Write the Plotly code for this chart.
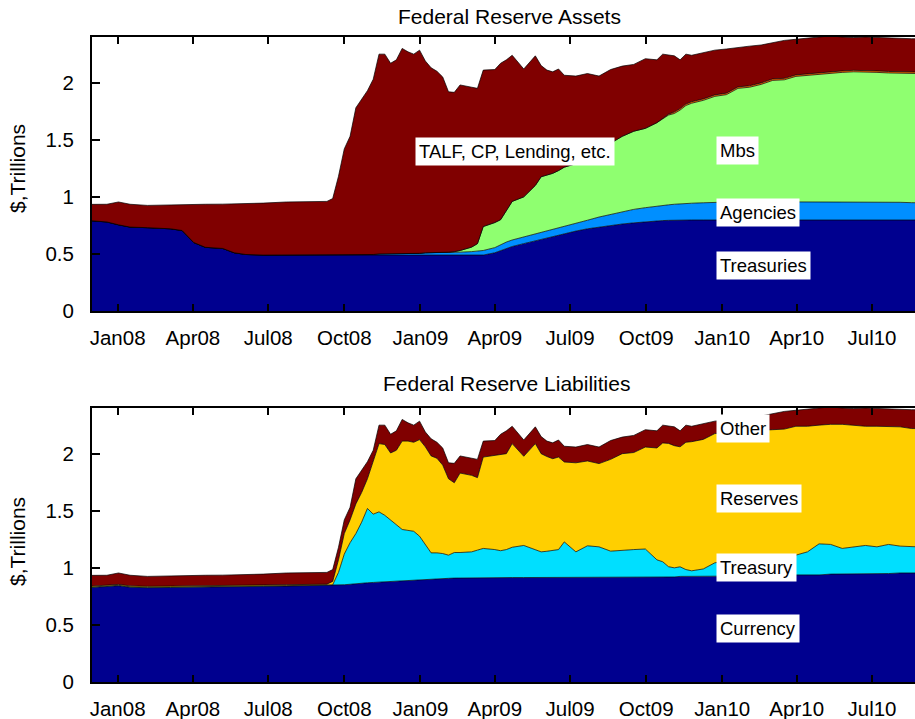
import plotly.graph_objects as go

dates = [
    "2007-12-01","2007-12-19","2008-01-02","2008-01-16","2008-02-06","2008-03-05","2008-03-19","2008-04-02","2008-04-16","2008-05-07",
    "2008-05-21","2008-06-04","2008-06-25","2008-07-23","2008-08-20","2008-09-10","2008-09-17","2008-09-24","2008-10-01","2008-10-08",
    "2008-10-15","2008-10-22","2008-10-29","2008-11-05","2008-11-12","2008-11-19","2008-11-26","2008-12-03","2008-12-10","2008-12-17",
    "2008-12-24","2008-12-31","2009-01-07","2009-01-14","2009-01-21","2009-01-28","2009-02-04","2009-02-11","2009-02-18","2009-03-04",
    "2009-03-11","2009-03-18","2009-04-01","2009-04-08","2009-04-15","2009-04-22","2009-05-06","2009-05-20","2009-05-27","2009-06-03",
    "2009-06-10","2009-06-17","2009-06-24","2009-07-08","2009-07-22","2009-08-05","2009-08-19","2009-09-02","2009-09-16","2009-09-30",
    "2009-10-14","2009-10-21","2009-10-28","2009-11-04","2009-11-11","2009-11-18","2009-11-25","2009-12-09","2009-12-23","2010-01-06",
    "2010-01-20","2010-02-03","2010-02-17","2010-03-03","2010-03-17","2010-03-31","2010-04-14","2010-04-28","2010-05-12","2010-05-26",
    "2010-06-09","2010-06-23","2010-07-07","2010-07-21","2010-08-04","2010-08-18","2010-08-25",
]

# ---- Assets ($ trillions) ----
treasuries = [
    0.79, 0.78, 0.755, 0.735, 0.73, 0.72, 0.705, 0.60, 0.558, 0.548,
    0.51, 0.495, 0.49, 0.49, 0.49, 0.49, 0.49, 0.49, 0.49, 0.49,
    0.49, 0.49, 0.49, 0.49, 0.49, 0.49, 0.49, 0.49, 0.49, 0.49,
    0.49, 0.49, 0.49, 0.49, 0.49, 0.49, 0.49, 0.49, 0.49, 0.49,
    0.49, 0.49, 0.51, 0.53, 0.549, 0.565, 0.59, 0.615, 0.625, 0.64,
    0.65, 0.665, 0.678, 0.70, 0.72, 0.735, 0.745, 0.762, 0.772, 0.782,
    0.79, 0.792, 0.794, 0.796, 0.797, 0.797, 0.797, 0.797, 0.797, 0.797,
    0.797, 0.797, 0.797, 0.797, 0.797, 0.797, 0.797, 0.797, 0.797, 0.797,
    0.797, 0.797, 0.797, 0.797, 0.797, 0.797, 0.797,
]
agencies = [
    0, 0, 0, 0, 0, 0, 0, 0, 0, 0,
    0, 0, 0, 0, 0, 0, 0, 0, 0.003, 0.005,
    0.005, 0.005, 0.005, 0.005, 0.01, 0.01, 0.01, 0.01, 0.01, 0.01,
    0.01, 0.015, 0.02, 0.02, 0.02, 0.02, 0.025, 0.025, 0.025, 0.03,
    0.035, 0.04, 0.045, 0.05, 0.055, 0.057, 0.058, 0.059, 0.06, 0.06,
    0.061, 0.062, 0.063, 0.065, 0.075, 0.088, 0.10, 0.11, 0.118, 0.123,
    0.13, 0.133, 0.136, 0.139, 0.142, 0.145, 0.147, 0.151, 0.155, 0.157,
    0.16, 0.16, 0.16, 0.16, 0.16, 0.16, 0.16, 0.16, 0.16, 0.16,
    0.16, 0.16, 0.16, 0.16, 0.155, 0.152, 0.151,
]
mbs = [
    0, 0, 0, 0, 0, 0, 0, 0, 0, 0,
    0, 0, 0, 0, 0, 0, 0, 0, 0, 0,
    0, 0, 0, 0, 0, 0, 0, 0, 0, 0,
    0, 0, 0, 0, 0, 0, 0, 0.005, 0.015, 0.04,
    0.065, 0.21, 0.22, 0.22, 0.276, 0.338, 0.352, 0.426, 0.491, 0.49,
    0.495, 0.503, 0.519, 0.525, 0.555, 0.587, 0.625, 0.658, 0.685, 0.695,
    0.73, 0.755, 0.786, 0.795, 0.821, 0.858, 0.876, 0.897, 0.928, 0.941,
    0.993, 1.003, 1.028, 1.063, 1.068, 1.098, 1.108, 1.118, 1.128, 1.133,
    1.138, 1.138, 1.133, 1.128, 1.133, 1.131, 1.132,
]
other_assets = [
    0, 0, 0, 0, 0, 0, 0, 0, 0, 0,
    0, 0, 0, 0, 0, 0, 0, 0, 0, 0,
    0, 0, 0, 0, 0, 0, 0, 0, 0, 0,
    0, 0, 0, 0, 0, 0, 0, 0, 0, 0,
    0, 0, 0, 0, 0, 0, 0, 0, 0, 0,
    0, 0, 0, 0, 0, 0, 0, 0, 0, 0,
    0, 0.005, 0.008, 0.013, 0.013, 0.013, 0.013, 0.013, 0.013, 0.013,
    0.013, 0.013, 0.013, 0.013, 0.013, 0.013, 0.013, 0.013, 0.013, 0.013,
    0.013, 0.013, 0.013, 0.013, 0.013, 0.013, 0.013,
]
talf_cp_lending = [
    0.144, 0.155, 0.20, 0.20, 0.195, 0.21, 0.23, 0.336, 0.377, 0.388,
    0.428, 0.445, 0.455, 0.465, 0.465, 0.47, 0.495, 0.69, 0.927, 1.035,
    1.285, 1.365, 1.435, 1.535, 1.75, 1.75, 1.67, 1.70, 1.80, 1.77,
    1.75, 1.78, 1.68, 1.62, 1.59, 1.54, 1.405, 1.395, 1.45, 1.40,
    1.36, 1.37, 1.34, 1.37, 1.32, 1.28, 1.12, 1.135, 0.974, 0.92,
    0.889, 0.89, 0.805, 0.768, 0.73, 0.648, 0.645, 0.615, 0.585, 0.61,
    0.55, 0.565, 0.521, 0.492, 0.427, 0.437, 0.407, 0.402, 0.392, 0.387,
    0.347, 0.347, 0.332, 0.317, 0.332, 0.312, 0.312, 0.307, 0.312, 0.297,
    0.287, 0.292, 0.292, 0.297, 0.292, 0.292, 0.292,
]

# ---- Liabilities ($ trillions) ----
currency = [
    0.828, 0.835, 0.843, 0.83, 0.826, 0.828, 0.83, 0.832, 0.832, 0.833,
    0.835, 0.836, 0.838, 0.84, 0.843, 0.845, 0.847, 0.849, 0.852, 0.856,
    0.862, 0.866, 0.869, 0.872, 0.875, 0.878, 0.882, 0.886, 0.89, 0.893,
    0.896, 0.898, 0.90, 0.902, 0.904, 0.906, 0.908, 0.91, 0.911, 0.912,
    0.913, 0.913, 0.915, 0.915, 0.915, 0.915, 0.915, 0.915, 0.915, 0.915,
    0.915, 0.915, 0.915, 0.915, 0.915, 0.915, 0.92, 0.92, 0.92, 0.92,
    0.92, 0.92, 0.92, 0.92, 0.925, 0.925, 0.925, 0.925, 0.925, 0.925,
    0.93, 0.93, 0.93, 0.93, 0.93, 0.938, 0.938, 0.938, 0.945, 0.945,
    0.945, 0.95, 0.95, 0.95, 0.955, 0.955, 0.955,
]
treasury_account = [
    0.004, 0.004, 0.004, 0.004, 0.004, 0.004, 0.004, 0.004, 0.004, 0.004,
    0.004, 0.004, 0.004, 0.004, 0.004, 0.004, 0.004, 0.111, 0.268, 0.364,
    0.438, 0.534, 0.651, 0.598, 0.615, 0.582, 0.535, 0.489, 0.446, 0.435,
    0.424, 0.379, 0.30, 0.229, 0.227, 0.219, 0.203, 0.224, 0.223, 0.228,
    0.242, 0.257, 0.245, 0.235, 0.245, 0.265, 0.281, 0.245, 0.225, 0.23,
    0.24, 0.245, 0.312, 0.225, 0.278, 0.269, 0.226, 0.23, 0.24, 0.245,
    0.15, 0.133, 0.09, 0.08, 0.084, 0.06, 0.049, 0.065, 0.119, 0.135,
    0.14, 0.15, 0.16, 0.17, 0.175, 0.173, 0.202, 0.272, 0.26, 0.225,
    0.239, 0.246, 0.234, 0.255, 0.235, 0.229, 0.229,
]
reserves = [
    0.008, 0.008, 0.008, 0.008, 0.008, 0.008, 0.008, 0.008, 0.008, 0.008,
    0.008, 0.008, 0.008, 0.008, 0.008, 0.008, 0.03, 0.11, 0.18, 0.20,
    0.26, 0.26, 0.26, 0.47, 0.598, 0.62, 0.589, 0.655, 0.774, 0.782,
    0.78, 0.846, 0.86, 0.849, 0.829, 0.775, 0.669, 0.611, 0.696, 0.67,
    0.635, 0.80, 0.826, 0.84, 0.84, 0.908, 0.781, 0.928, 0.86, 0.83,
    0.801, 0.81, 0.70, 0.78, 0.743, 0.729, 0.804, 0.85, 0.85, 0.893,
    0.98, 1.041, 1.08, 1.07, 1.051, 1.115, 1.131, 1.135, 1.132, 1.12,
    1.12, 1.12, 1.115, 1.11, 1.11, 1.129, 1.10, 1.04, 1.052, 1.087,
    1.066, 1.044, 1.056, 1.035, 1.045, 1.036, 1.036,
]
other_liabilities = [
    0.094, 0.088, 0.10, 0.093, 0.087, 0.09, 0.093, 0.092, 0.091, 0.091,
    0.091, 0.092, 0.095, 0.103, 0.10, 0.103, 0.104, 0.11, 0.12, 0.11,
    0.22, 0.20, 0.15, 0.09, 0.162, 0.17, 0.164, 0.17, 0.19, 0.16,
    0.15, 0.162, 0.13, 0.15, 0.14, 0.15, 0.14, 0.17, 0.15, 0.15,
    0.16, 0.14, 0.129, 0.18, 0.20, 0.152, 0.143, 0.147, 0.15, 0.135,
    0.139, 0.15, 0.138, 0.138, 0.144, 0.145, 0.165, 0.145, 0.15, 0.152,
    0.15, 0.156, 0.155, 0.165, 0.14, 0.15, 0.135, 0.135, 0.109, 0.115,
    0.12, 0.12, 0.125, 0.14, 0.155, 0.14, 0.15, 0.145, 0.153, 0.143,
    0.145, 0.16, 0.155, 0.155, 0.155, 0.165, 0.165,
]

tick_dates = ["2008-01-01", "2008-04-01", "2008-07-01", "2008-10-01", "2009-01-01", "2009-04-01",
              "2009-07-01", "2009-10-01", "2010-01-01", "2010-04-01", "2010-07-01"]
tick_labels = ["Jan08", "Apr08", "Jul08", "Oct08", "Jan09", "Apr09",
               "Jul09", "Oct09", "Jan10", "Apr10", "Jul10"]
y_ticks = [0, 0.5, 1, 1.5, 2]
y_tick_labels = ["0", "0.5", "1", "1.5", "2"]

FONT = "Liberation Sans, Arial, Helvetica, sans-serif"
EDGE = dict(color="black", width=0.7)

fig = go.Figure()

asset_layers = [
    ("Treasuries", treasuries, "#00008F"),
    ("Agencies", agencies, "#008FFF"),
    ("Mbs", mbs, "#8FFF70"),
    ("Other assets", other_assets, "#FF7000"),
    ("TALF, CP, Lending, etc.", talf_cp_lending, "#800000"),
]
for name, vals, col in asset_layers:
    fig.add_trace(go.Scatter(x=dates, y=vals, name=name, mode="lines", stackgroup="assets",
                             line=EDGE, fillcolor=col, xaxis="x", yaxis="y", showlegend=False))

liab_layers = [
    ("Currency", currency, "#00008F"),
    ("Treasury", treasury_account, "#00DFFF"),
    ("Reserves", reserves, "#FFCF00"),
    ("Other", other_liabilities, "#800000"),
]
for name, vals, col in liab_layers:
    fig.add_trace(go.Scatter(x=dates, y=vals, name=name, mode="lines", stackgroup="liab",
                             line=EDGE, fillcolor=col, xaxis="x2", yaxis="y2", showlegend=False))

x_range = ["2007-12-01", "2010-08-22"]
xax = dict(type="date", range=x_range, tickvals=tick_dates, ticktext=tick_labels,
           ticks="inside", ticklen=7, tickwidth=1.5, tickcolor="black",
           showline=True, linewidth=2, linecolor="black", mirror="allticks",
           showgrid=False, zeroline=False, automargin=False, ticklabelstandoff=7,
           tickfont=dict(size=20.5, color="black", family=FONT),
           domain=[92 / 915, 1.0])
yax = dict(range=[0, 2.4], tickvals=y_ticks, ticktext=y_tick_labels,
           ticks="inside", ticklen=8, tickwidth=1.5, tickcolor="black",
           showline=True, linewidth=2, linecolor="black", automargin=False, ticklabelstandoff=12,
           showgrid=False, zeroline=False, tickfont=dict(size=20.5, color="black", family=FONT))

fig.update_layout(
    width=915, height=719,
    margin=dict(l=0, r=0, t=0, b=0, autoexpand=False),
    paper_bgcolor="white", plot_bgcolor="white",
    font=dict(family=FONT, color="black"),
    xaxis=dict(xax, anchor="y"),
    yaxis=dict(yax, anchor="x", domain=[(719 - 311) / 719, (719 - 37) / 719]),
    xaxis2=dict(xax, anchor="y2"),
    yaxis2=dict(yax, anchor="x2", domain=[(719 - 682) / 719, (719 - 408) / 719]),
)

ann = []
lab_font = dict(size=18.5, color="black", family=FONT)
def label(text, xd, yv, xr, yr):
    ann.append(dict(text=text, x=xd, y=yv, xref=xr, yref=yr, xanchor="left", yanchor="middle",
                    showarrow=False, bgcolor="white", borderpad=3, font=lab_font))

label("TALF, CP, Lending, etc.", "2008-12-26", 1.40, "x", "y")
label("Mbs", "2009-12-25", 1.405, "x", "y")
label("Agencies", "2009-12-25", 0.86, "x", "y")
label("Treasuries", "2009-12-25", 0.395, "x", "y")
label("Other", "2009-12-25", 2.22, "x2", "y2")
label("Reserves", "2009-12-25", 1.605, "x2", "y2")
label("Treasury", "2009-12-25", 1.0, "x2", "y2")
label("Currency", "2009-12-25", 0.47, "x2", "y2")

title_font = dict(size=21, color="black", family=FONT)
ann.append(dict(text="Federal Reserve Assets", x=510 / 915, y=1 - 17 / 719, xref="paper", yref="paper",
                xanchor="center", yanchor="middle", showarrow=False, font=title_font))
ann.append(dict(text="Federal Reserve Liabilities", x=506 / 915, y=1 - 383 / 719, xref="paper", yref="paper",
                xanchor="center", yanchor="middle", showarrow=False, font=title_font))
ann.append(dict(text="$,Trillions", x=17 / 915, y=1 - 169 / 719, xref="paper", yref="paper",
                xanchor="center", yanchor="middle", textangle=-90, showarrow=False, font=title_font))
ann.append(dict(text="$,Trillions", x=17 / 915, y=1 - 542 / 719, xref="paper", yref="paper",
                xanchor="center", yanchor="middle", textangle=-90, showarrow=False, font=title_font))

fig.update_layout(annotations=ann)
fig.write_html(
    "out.html",
    config={"responsive": False, "displayModeBar": False},
    post_script="document.body.style.margin='0';document.body.style.padding='0';document.body.style.overflow='hidden';",
)
